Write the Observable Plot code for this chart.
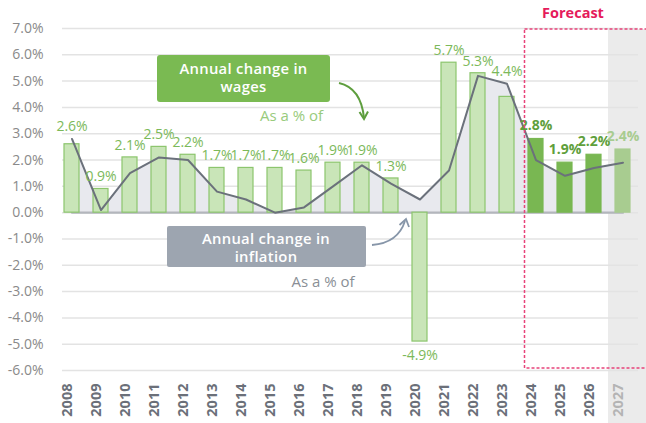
<!DOCTYPE html>
<html><head><meta charset="utf-8">
<script src="https://cdn.jsdelivr.net/npm/d3@7"></script>
<script src="https://cdn.jsdelivr.net/npm/@observablehq/plot@0.6"></script>
<style>
body{margin:0;background:#fff;}
#chart svg{display:block;overflow:visible;}
</style></head><body><div id="chart"></div>
<script>
const years = ["2008","2009","2010","2011","2012","2013","2014","2015","2016","2017","2018","2019","2020","2021","2022","2023","2024","2025","2026","2027"];
const wages = [2.6,0.9,2.1,2.5,2.2,1.7,1.7,1.7,1.6,1.9,1.9,1.3,-4.9,5.7,5.3,4.4,2.8,1.9,2.2,2.4];
const inflation = [2.8,0.1,1.5,2.1,2.0,0.8,0.5,0.0,0.2,1.0,1.8,1.1,0.5,1.6,5.2,4.9,2.0,1.4,1.7,1.9];
const yTicks = [-6,-5,-4,-3,-2,-1,0,1,2,3,4,5,6,7];
const forecastYears = ["2024","2025","2026"];
const outlookYears = ["2027"];

const data = years.map((year, i) => ({
  year, wage: wages[i], infl: inflation[i],
  kind: outlookYears.includes(year) ? "outlook" : forecastYears.includes(year) ? "forecast" : "actual"
}));
const baseData = years.map(year => ({year, v: 0}));

const barFill = {actual: "#c9e5b8", forecast: "#79b752", outlook: "#a8cc90"};
const barStroke = {actual: "#8cc56d", forecast: "#79b752", outlook: "#a8cc90"};
const labelFill = {actual: "#7cb95a", forecast: "#5f9f3c", outlook: "#a8cc90"};
const pct = v => v.toFixed(1) + "%";
const FONT = "'Open Sans', sans-serif";

const chart = Plot.plot({
  width: 646, height: 423,
  marginTop: 28, marginBottom: 53, marginLeft: 62, marginRight: 8,
  style: {fontFamily: FONT, fontSize: "14px", background: "transparent", overflow: "visible"},
  x: {type: "band", domain: years, paddingInner: 0.466, paddingOuter: 0.147, align: 0.235, axis: null},
  y: {domain: [-6, 7], axis: null},
  color: {type: "identity"},
  marks: [
    Plot.ruleY(yTicks, {stroke: "#e3e3e3", strokeWidth: 1.5}),
    Plot.areaY(data, {x: "year", y: "infl", fill: "#e8e9ee"}),
    Plot.line(baseData, {x: "year", y: "v", stroke: "#b3b6bc", strokeWidth: 2.2}),
    Plot.barY(data, {x: "year", y: "wage", fill: d => barFill[d.kind], stroke: d => barStroke[d.kind], strokeWidth: 1.2}),
    Plot.line(data, {x: "year", y: "infl", stroke: "#6b717b", strokeWidth: 2}),
    Plot.text(data.filter(d => d.kind === "actual" && d.wage >= 0), {
      x: "year", y: d => Math.max(d.wage, d.infl), text: d => pct(d.wage),
      fill: d => labelFill[d.kind], dy: -12, fontSize: 14
    }),
    Plot.text(data.filter(d => d.wage < 0), {
      x: "year", y: "wage", text: d => pct(d.wage),
      fill: d => labelFill[d.kind], dy: 14, fontSize: 14
    }),
    Plot.text(data.filter(d => d.kind !== "actual"), {
      x: "year", y: d => Math.max(d.wage, d.infl), text: d => pct(d.wage),
      fill: d => labelFill[d.kind], dy: -13, fontSize: 14, fontWeight: "bold"
    }),
    Plot.text(yTicks, {
      y: d => d, text: d => pct(d), frameAnchor: "left", textAnchor: "end", dx: -19,
      fill: "#8a8a8a", fontSize: 14
    }),
    Plot.text(data, {
      x: "year", text: "year", frameAnchor: "bottom", rotate: -90, textAnchor: "end", dy: 13,
      fill: d => d.kind === "outlook" ? "#b4b4b4" : "#6b7079", fontWeight: "bold", fontSize: 14.5
    })
  ]
});

document.getElementById("chart").appendChild(chart);

const svg = d3.select(chart);
const xs = chart.scale("x");
const ys = chart.scale("y");
const gap = xs.step - xs.bandwidth;

// grey shading behind the last (outlook) year
const firstG = chart.querySelector("g");
const shade = document.createElementNS("http://www.w3.org/2000/svg", "rect");
const shadeX = xs.apply(outlookYears[0]) - gap / 2;
shade.setAttribute("x", shadeX);
shade.setAttribute("y", ys.apply(7) + 1);
shade.setAttribute("width", 646 - shadeX);
shade.setAttribute("height", 423 - ys.apply(7));
shade.setAttribute("fill", "#ebebeb");
chart.insertBefore(shade, firstG);

// Forecast box
const fx = xs.apply(forecastYears[0]) - 3.5;
svg.append("rect")
  .attr("x", fx).attr("y", ys.apply(7) + 1)
  .attr("width", 660 - fx).attr("height", ys.apply(-6) - ys.apply(7) - 3)
  .attr("fill", "none").attr("stroke", "#e8437a").attr("stroke-width", 1.5)
  .attr("stroke-dasharray", "3,2");
svg.append("text").attr("x", 573).attr("y", 17.5).attr("text-anchor", "middle")
  .attr("fill", "#e51b5b").attr("font-weight", "bold").attr("font-size", 14.5)
  .attr("font-family", FONT).text("Forecast");

function twoLine(x, y, lines, lh) {
  const t = svg.append("text").attr("text-anchor", "middle")
    .attr("fill", "#fff").attr("font-weight", 600).attr("font-size", 14.8)
    .attr("font-family", FONT).attr("letter-spacing", 0.3);
  lines.forEach((s, i) => t.append("tspan").attr("x", x).attr("y", y + i * lh).text(s));
}

// wages annotation
svg.append("rect").attr("x", 157).attr("y", 55).attr("width", 173).attr("height", 47)
  .attr("rx", 3).attr("fill", "#7aba52");
twoLine(243.5, 73.5, ["Annual change in", "wages"], 18.5);
svg.append("text").attr("x", 291.5).attr("y", 121).attr("text-anchor", "middle")
  .attr("fill", "#98cb7c").attr("font-size", 15)
  .attr("font-family", FONT).text("As a % of");
svg.append("path").attr("d", "M339,83 Q361,88 364,118")
  .attr("fill", "none").attr("stroke", "#5e9e3e").attr("stroke-width", 2);
svg.append("path").attr("d", "M359.5,112 L364,119 L368,111.5")
  .attr("fill", "none").attr("stroke", "#5e9e3e").attr("stroke-width", 2);

// inflation annotation
svg.append("rect").attr("x", 167).attr("y", 226).attr("width", 199).attr("height", 41)
  .attr("rx", 2).attr("fill", "#9da5b0");
twoLine(266, 243.5, ["Annual change in", "inflation"], 18.5);
svg.append("text").attr("x", 323).attr("y", 287).attr("text-anchor", "middle")
  .attr("fill", "#8a8f96").attr("font-size", 15)
  .attr("font-family", FONT).text("As a % of");
svg.append("path").attr("d", "M372,245 Q398,243 405,221")
  .attr("fill", "none").attr("stroke", "#8796a9").attr("stroke-width", 1.8);
svg.append("path").attr("d", "M399.5,225 L406,219 L409,227")
  .attr("fill", "none").attr("stroke", "#8796a9").attr("stroke-width", 1.8);
</script></body></html>
